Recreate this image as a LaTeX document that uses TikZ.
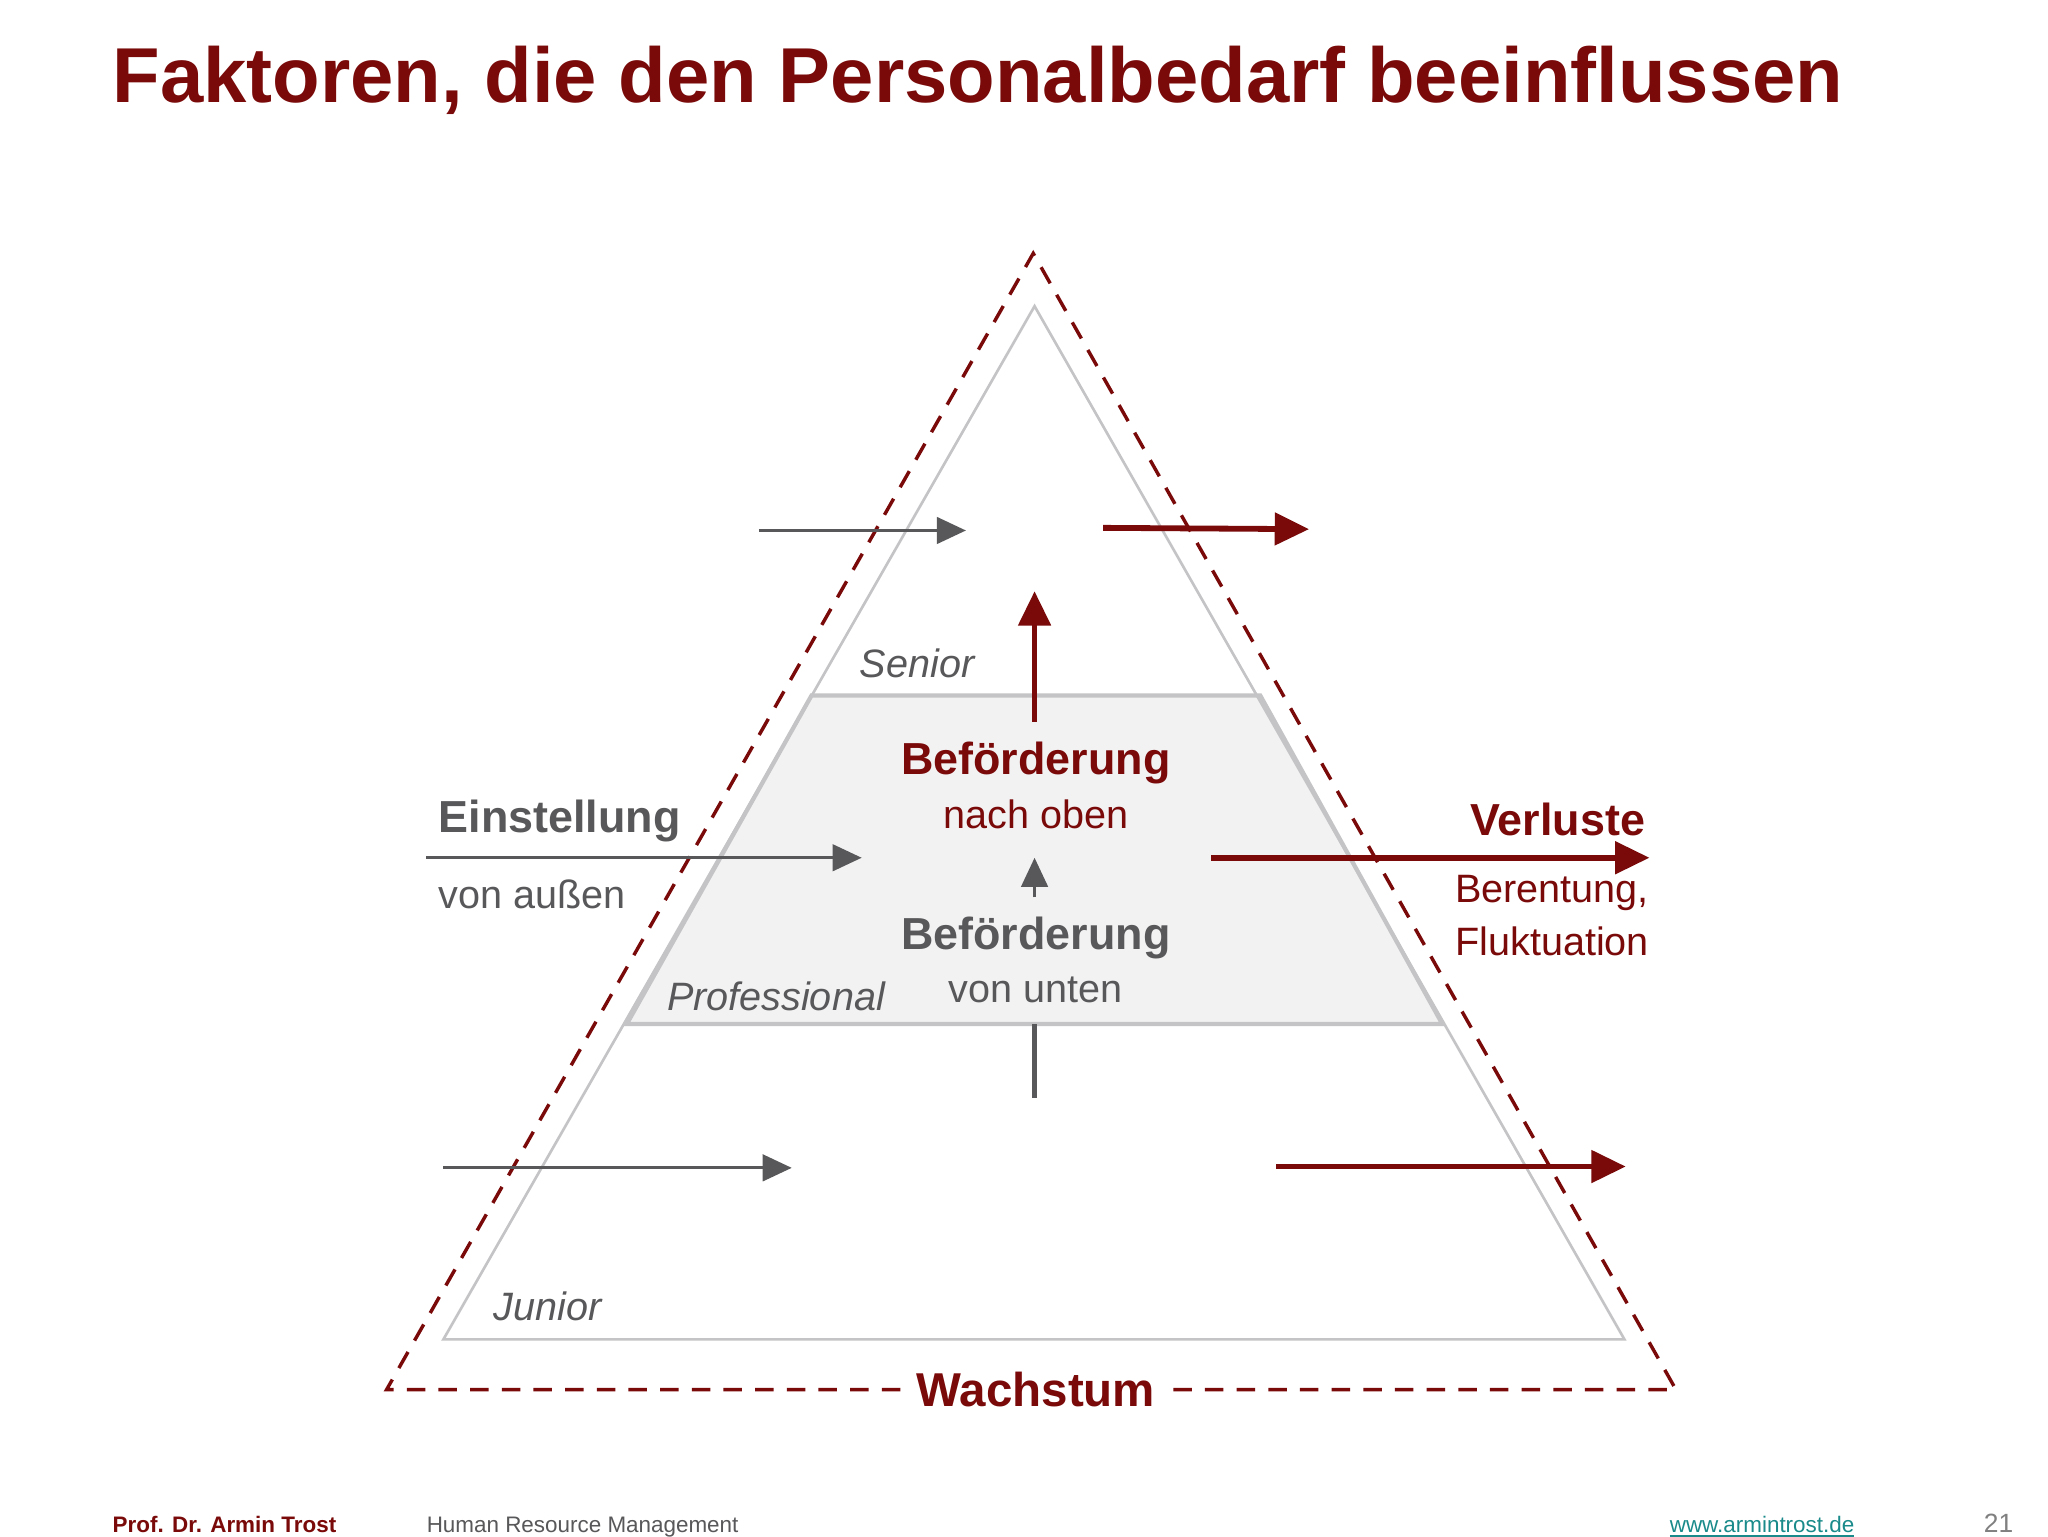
\documentclass[tikz,border=0pt]{standalone}
\usepackage{fontspec}
\setmainfont{Liberation Sans}
\usetikzlibrary{arrows.meta,calc}
\definecolor{dred}{HTML}{7A0A0A}
\definecolor{tgrey}{HTML}{58585A}
\definecolor{lgrey}{HTML}{C4C4C6}
\definecolor{band}{HTML}{F2F2F3}
\definecolor{teal}{HTML}{1A8A8A}
\tikzset{
 garrow/.style={draw=tgrey,line width=1.2pt,-{Triangle[length=11pt,width=10pt]}},
 rarrow/.style={draw=dred,line width=2.2pt,-{Triangle[length=13pt,width=12pt]}},
 lbl/.style={font=\fontsize{15}{18}\selectfont\itshape,text=tgrey,inner sep=0pt},
 bt/.style={font=\fontsize{17}{20}\selectfont\bfseries,inner sep=0pt},
 nt/.style={font=\fontsize{15}{18}\selectfont,inner sep=0pt},
}
\begin{document}
\begin{tikzpicture}[x=0.5pt,y=-0.5pt]
\useasboundingbox[fill=white] (0,0) rectangle (1552,1164);
\node[anchor=base west,inner sep=0pt,text=dred,font=\fontsize{29.5}{32}\selectfont\bfseries] (title) at (85,78) {Faktoren, die den Personalbedarf beeinflussen};
% band
\fill[band] (615,527) -- (955,527) -- (1093,776) -- (475,776) -- cycle;
\draw[lgrey,line width=1.6pt] (615,527) -- (955,527) -- (1093,776) -- (475,776) -- cycle;
% inner triangle
\draw[lgrey,line width=1pt] (784,232) -- (1231,1015) -- (336,1015) -- cycle;
% dashed triangle
\coordinate (apex) at (783,192);
\coordinate (bl) at (293,1053);
\coordinate (br) at (1270,1053);
\node[bt,text=dred,font=\fontsize{18}{20}\selectfont\bfseries] (wachs) at (785,1053) {Wachstum};
\draw[dred,line width=1.3pt,dash pattern=on 7pt off 5pt] ($(wachs.west)+(-12,0)$) -- (bl) -- (apex) -- (br) -- ($(wachs.east)+(12,0)$);
% labels
\node[lbl] (sen) at (695,503) {Senior};
\node[lbl] (pro) at (588,755) {Professional};
\node[lbl] (jun) at (415,990) {Junior};
% grey arrows
\coordinate (g1a) at (575,402); \coordinate (g1b) at (732,402);
\coordinate (g2a) at (323,650); \coordinate (g2b) at (653,650);
\coordinate (g3a) at (336,885); \coordinate (g3b) at (600,885);
\draw[garrow] (g1a) -- (g1b);
\draw[garrow] (g2a) -- (g2b);
\draw[garrow] (g3a) -- (g3b);
% red arrows
\coordinate (r1a) at (836,400); \coordinate (r1b) at (992,401);
\coordinate (r2a) at (918,650); \coordinate (r2b) at (1250,650);
\coordinate (r3a) at (967,884); \coordinate (r3b) at (1232,884);
\draw[rarrow] (r1a) -- (r1b);
\draw[rarrow] (r2a) -- (r2b);
\draw[rarrow] (r3a) -- (r3b);
% vertical
\coordinate (v1a) at (784,547); \coordinate (v1b) at (784,448);
\coordinate (v2a) at (784,680); \coordinate (v2b) at (784,650);
\coordinate (v3a) at (784,832); \coordinate (v3b) at (784,776);
\draw[rarrow] (v1a) -- (v1b);
\draw[garrow] (v2a) -- (v2b);
\draw[tgrey,line width=1.6pt] (v3a) -- (v3b);
% texts
\node[bt,text=dred] (b1) at (785,578) {Beförderung};
\node[nt,text=dred] (b1s) at (785,617) {nach oben};
\node[bt,text=tgrey] (b2) at (785,711) {Beförderung};
\node[nt,text=tgrey] (b2s) at (785,750) {von unten};
\node[bt,text=tgrey,anchor=west] (ein) at (332,622) {Einstellung};
\node[nt,text=tgrey,anchor=west] (eins) at (332,678) {von außen};
\node[bt,text=dred,anchor=east] (ver) at (1247,621) {Verluste};
\node[nt,text=dred,anchor=east] (ver1) at (1250,677) {Berentung,};
\node[nt,text=dred,anchor=east] (ver2) at (1250,713) {Fluktuation};
% footer
\node[anchor=base west,inner sep=0pt,text=dred,font=\fontsize{8.5}{10}\selectfont\bfseries] (f1) at (85,1161) {Prof. Dr. Armin Trost};
\node[anchor=base west,inner sep=0pt,text=tgrey,font=\fontsize{8.5}{10}\selectfont] (f2) at (323,1161) {Human Resource Management};
\node[anchor=base west,inner sep=0pt,text=teal,font=\fontsize{8.5}{10}\selectfont] (f3) at (1265,1161) {\underline{www.armintrost.de}};
\node[anchor=base west,inner sep=0pt,text=gray,font=\fontsize{10}{12}\selectfont] (f4) at (1503,1161) {21};
\end{tikzpicture}
\end{document}
